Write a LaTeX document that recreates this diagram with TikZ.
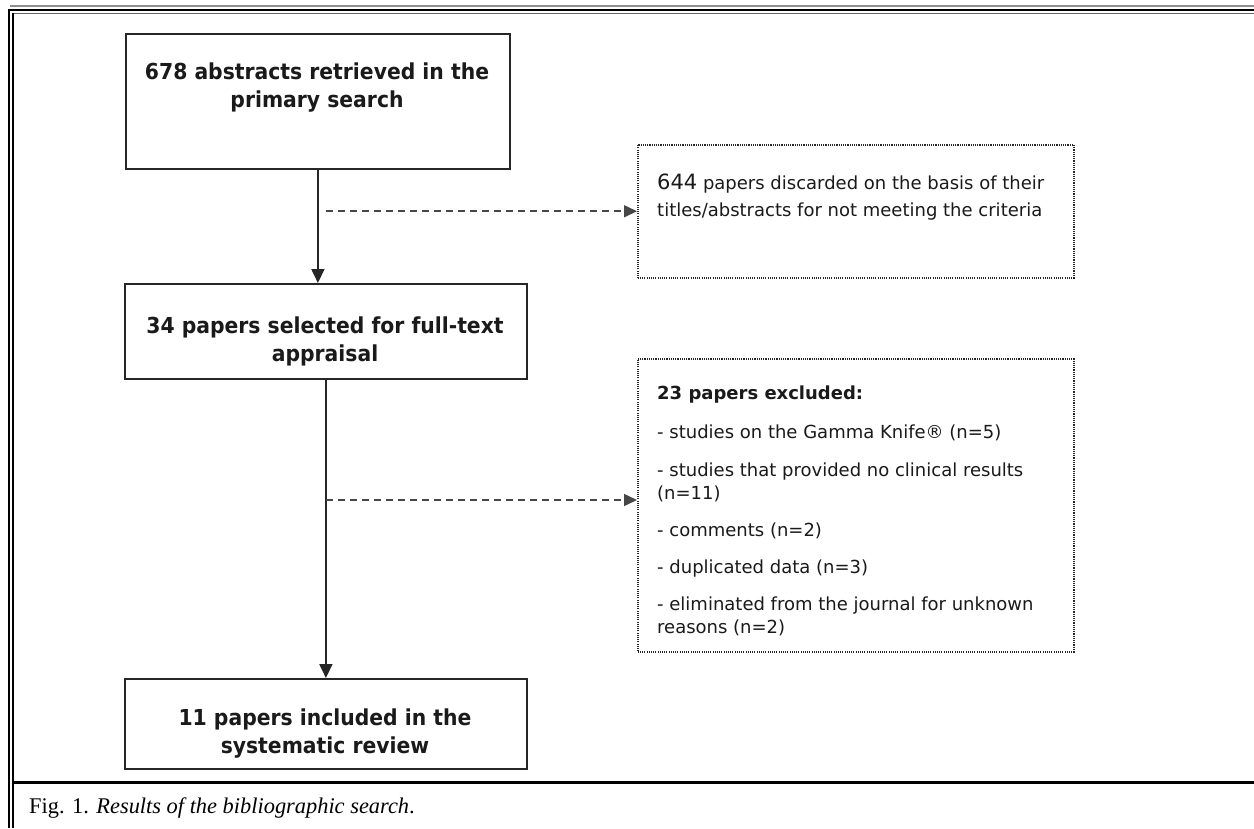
\documentclass[tikz,border=0pt]{standalone}
\usepackage{fontspec}
\setmainfont{Liberation Serif}
\newfontfamily\boxfont{DejaVu Sans}[FakeStretch=0.925]
\newfontfamily\plainfont{DejaVu Sans}
\usetikzlibrary{arrows.meta}
\definecolor{ink}{HTML}{262626}
\definecolor{txt}{HTML}{1A1A1A}
\begin{document}
\begin{tikzpicture}[x=1pt,y=-1pt,
  solidbox/.style={draw=ink, line width=1.8pt, inner sep=0pt, anchor=north west},
  dotbox/.style={draw=ink, line width=1.5pt, dash pattern=on 1.1pt off 1.1pt, inner sep=0pt, anchor=north west},
  boldtext/.style={text=txt, align=center, font=\boxfont\bfseries\fontsize{22}{28}\selectfont, inner sep=0pt, anchor=base},
  listtext/.style={text=txt, align=left, font=\plainfont\fontsize{18}{23}\selectfont, inner sep=0pt, anchor=base west},
  arr/.style={draw=ink, line width=1.8pt, -{Triangle[length=14pt,width=13pt]}},
  dasharr/.style={draw=ink!85, line width=1.6pt, dash pattern=on 7pt off 5pt, -{Triangle[length=13pt,width=12pt]}},
  frameline/.style={draw=black}]
\fill[white] (0,0) rectangle (1254,828);
\useasboundingbox (0,0) rectangle (1254,828);
% page frame
\draw[frameline, draw=black!45, line width=2pt] (10,6) -- (1254,6);
\draw[frameline, line width=2.5pt] (8,10) -- (1254,10);
\draw[frameline, draw=black!60, line width=1pt] (13,13.5) -- (1254,13.5);
\draw[frameline, line width=2pt] (9,9) -- (9,828);
\draw[frameline, line width=1.5pt] (13,13) -- (13,828);
\draw[frameline, line width=3pt] (13,782) -- (1254,782);
% main boxes
\node[solidbox, minimum width=384pt, minimum height=135pt] (b1) at (125,33) {};
\node[boldtext] (t1) at (317,107) {678 abstracts retrieved in the\\primary search};
\node[solidbox, minimum width=402pt, minimum height=95pt] (b2) at (124,283) {};
\node[boldtext] (t2) at (325,361) {34 papers selected for full-text\\appraisal};
\node[solidbox, minimum width=402pt, minimum height=90pt] (b3) at (124,678) {};
\node[boldtext] (t3) at (325,753) {11 papers included in the\\systematic review};
% side boxes
\node[dotbox, minimum width=436pt, minimum height=133pt] (d1) at (637,144) {};
\node[listtext, font=\plainfont\fontsize{18}{27}\selectfont] (t4) at (657,216) {{\fontsize{21}{27}\selectfont 644} papers discarded on the basis of their\\titles/abstracts for not meeting the criteria};
\node[dotbox, minimum width=436pt, minimum height=293pt] (d2) at (637,358) {};
\node[listtext, font=\plainfont\bfseries\fontsize{18}{23}\selectfont] (e0) at (657,399) {23 papers excluded:};
\node[listtext] (e1) at (657,438) {- studies on the Gamma Knife® (n=5)};
\node[listtext] (e2) at (657,499) {- studies that provided no clinical results\\(n=11)};
\node[listtext] (e3) at (657,536) {- comments (n=2)};
\node[listtext] (e4) at (657,573) {- duplicated data (n=3)};
\node[listtext] (e5) at (657,633) {- eliminated from the journal for unknown\\reasons (n=2)};
% connectors
\draw[arr] (b1.south) -- (b1.south |- b2.north);
\draw[arr] (b2.south) -- (b3.north);
\coordinate (j1) at ([xshift=8pt]b1.south |- d1.west);
\draw[dasharr] (j1) -- (d1.west);
\coordinate (j2) at (b2.south |- 0,500);
\draw[dasharr] (j2) -- (j2 -| d2.west);
% caption
\node[anchor=base west, inner sep=0pt, text=black, font=\fontsize{22.4}{26}\selectfont] (cap) at (29,813) {Fig. 1. \textit{Results of the bibliographic search}.};
\end{tikzpicture}
\end{document}
